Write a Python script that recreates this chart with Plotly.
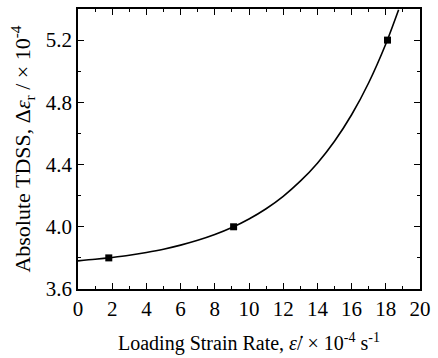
import plotly.graph_objects as go

# measured data points
rate = [1.8, 9.1, 18.1]
tdss = [3.80, 4.00, 5.20]

# fitted curve
curve_x = [0, 1, 2, 3, 4, 5, 6, 7, 8, 9, 10, 11, 12, 13, 14, 15, 16, 17, 18, 18.75]
curve_y = [3.781, 3.791, 3.803, 3.817, 3.835, 3.856, 3.882, 3.913, 3.950, 3.995,
           4.050, 4.116, 4.196, 4.293, 4.409, 4.550, 4.720, 4.926, 5.175, 5.395]

x_ticks = [0, 2, 4, 6, 8, 10, 12, 14, 16, 18, 20]
y_ticks = [3.6, 4.0, 4.4, 4.8, 5.2]

FONT = "Liberation Serif"

fig = go.Figure()
fig.add_trace(go.Scatter(x=curve_x, y=curve_y, mode="lines",
                         line=dict(color="black", width=1.6, shape="spline", smoothing=0.8),
                         showlegend=False, hoverinfo="skip"))
fig.add_trace(go.Scatter(x=rate, y=tdss, mode="markers",
                         marker=dict(symbol="square", size=7, color="black"),
                         showlegend=False))

axis_common = dict(
    showgrid=False, zeroline=False, showline=True, linecolor="black", linewidth=1.5,
    mirror="ticks", ticks="inside", ticklen=6, tickwidth=1, tickcolor="black",
    tickfont=dict(family=FONT, size=21, color="black"),
)

fig.update_xaxes(range=[0, 20], tickvals=x_ticks, ticktext=[str(v) for v in x_ticks],
                 minor=dict(dtick=1, ticks="inside", ticklen=3, tickcolor="black", tickwidth=1),
                 title=dict(text="Loading Strain Rate, <i>ε̇</i>/ × 10<sup>-4</sup> s<sup>-1</sup>",
                            font=dict(family=FONT, size=20, color="black"), standoff=16),
                 **axis_common)
fig.update_yaxes(range=[3.6, 5.4], tickvals=y_ticks, ticktext=[f"{v:.1f}" for v in y_ticks],
                 minor=dict(dtick=0.2, tick0=3.6, ticks="inside", ticklen=3, tickcolor="black", tickwidth=1),
                 title=dict(text="Absolute TDSS, Δ<i>ε</i><sub>r</sub> / × 10<sup>-4</sup>",
                            font=dict(family=FONT, size=22, color="black"), standoff=9),
                 **axis_common)

fig.update_layout(width=438, height=358, margin=dict(l=78, r=12, t=7, b=67),
                  plot_bgcolor="white", paper_bgcolor="white")

fig.write_html("out.html")
